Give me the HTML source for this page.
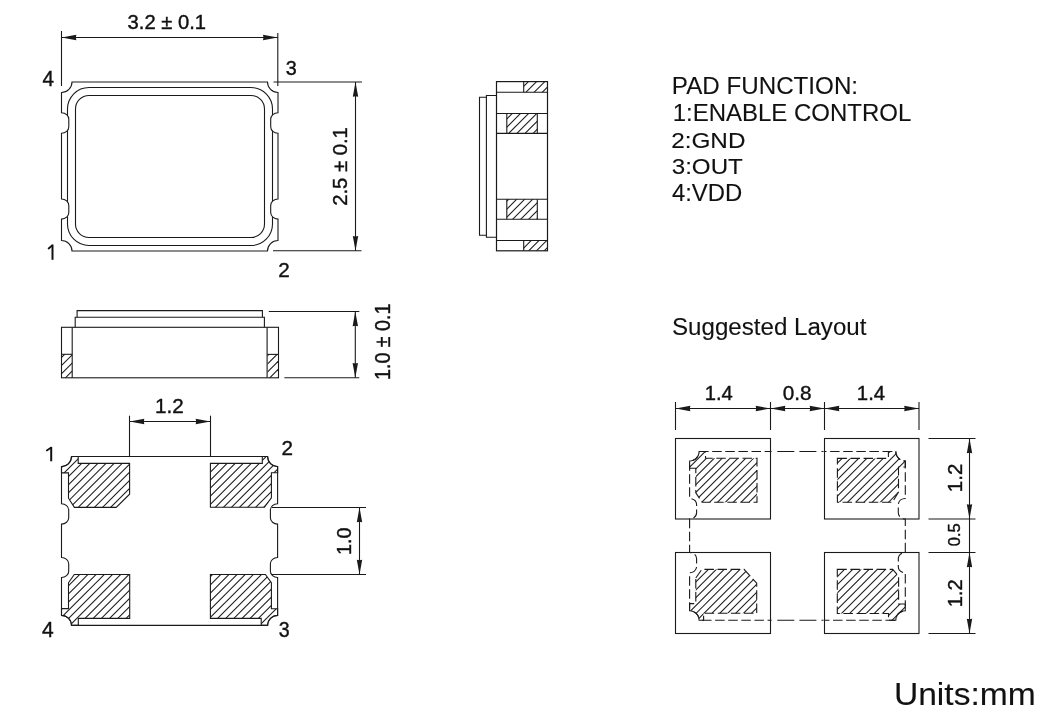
<!DOCTYPE html>
<html><head><meta charset="utf-8"><style>
html,body{margin:0;padding:0;background:#fff;}
svg{display:block;will-change:transform;}
text{font-family:"Liberation Sans",sans-serif;fill:#111;stroke:#111;stroke-width:0.4px;}
</style></head><body>
<svg width="1062" height="715" viewBox="0 0 1062 715">
<rect width="1062" height="715" fill="#fff"/>
<g stroke="#1a1a1a" fill="none" stroke-linecap="butt">
<rect x="67.5" y="87.5" width="205.0" height="158.0" rx="21.5" ry="21.5" fill="none" stroke-width="1.1"/>
<rect x="75.5" y="95.5" width="189.0" height="142.0" rx="13.5" ry="13.5" fill="none" stroke-width="1.1"/>
<path d="M 61.5,112.7 A 7.3 6.6 0 0 1 68.8,119.3 L 68.8,126.70000000000002 A 7.3 6.6 0 0 1 61.5,133.3 Z" fill="#fff" stroke="none"/>
<path d="M 278.0,112.7 A 7.3 6.6 0 0 0 270.7,119.3 L 270.7,126.70000000000002 A 7.3 6.6 0 0 0 278.0,133.3 Z" fill="#fff" stroke="none"/>
<path d="M 61.5,199.0 A 7.3 6.6 0 0 1 68.8,205.6 L 68.8,212.5 A 7.3 6.6 0 0 1 61.5,219.1 Z" fill="#fff" stroke="none"/>
<path d="M 278.0,199.0 A 7.3 6.6 0 0 0 270.7,205.6 L 270.7,212.5 A 7.3 6.6 0 0 0 278.0,219.1 Z" fill="#fff" stroke="none"/>
<path d="M 72.0,82.0 L 267.5,82.0 A 10.5 10.5 0 0 0 278.0,92.5 L 278.0,112.7 A 7.3 6.6 0 0 0 270.7,119.3 L 270.7,126.70000000000002 A 7.3 6.6 0 0 0 278.0,133.3 L 278.0,199.0 A 7.3 6.6 0 0 0 270.7,205.6 L 270.7,212.5 A 7.3 6.6 0 0 0 278.0,219.1 L 278.0,240.5 A 10.5 10.5 0 0 0 267.5,251.0 L 72.0,251.0 A 10.5 10.5 0 0 0 61.5,240.5 L 61.5,219.1 A 7.3 6.6 0 0 0 68.8,212.5 L 68.8,205.6 A 7.3 6.6 0 0 0 61.5,199.0 L 61.5,133.3 A 7.3 6.6 0 0 0 68.8,126.70000000000002 L 68.8,119.3 A 7.3 6.6 0 0 0 61.5,112.7 L 61.5,92.5 A 10.5 10.5 0 0 0 72.0,82.0 Z" fill="none" stroke-width="1.1" />
<line x1="61.5" y1="31" x2="61.5" y2="86" stroke-width="1.1" />
<line x1="277.8" y1="33" x2="277.8" y2="86" stroke-width="1.1" />
<line x1="61.5" y1="37.5" x2="277.8" y2="37.5" stroke-width="1.1" />
<polygon points="61.50,37.50 76.30,34.80 75.86,37.50 76.30,40.20" fill="#1a1a1a" stroke="none"/>
<polygon points="277.80,37.50 263.00,34.80 263.44,37.50 263.00,40.20" fill="#1a1a1a" stroke="none"/>
<line x1="273.5" y1="82" x2="362" y2="82" stroke-width="1.1" />
<line x1="273" y1="250.8" x2="361.5" y2="250.8" stroke-width="1.1" />
<line x1="355.5" y1="82" x2="355.5" y2="250.8" stroke-width="1.1" />
<polygon points="355.50,82.00 352.80,96.80 355.50,96.36 358.20,96.80" fill="#1a1a1a" stroke="none"/>
<polygon points="355.50,250.80 352.80,236.00 355.50,236.44 358.20,236.00" fill="#1a1a1a" stroke="none"/>
<rect x="496.5" y="81.6" width="51" height="169.2" fill="none" stroke-width="1.2"/>
<line x1="496.5" y1="92.2" x2="547.5" y2="92.2" stroke-width="1.1" />
<line x1="523.7" y1="81.6" x2="523.7" y2="92.2" stroke-width="1.1" />
<clipPath id="c1"><path d="M 523.7,81.6 L 547.5,81.6 L 547.5,92.2 L 523.7,92.2 Z"/></clipPath>
<g clip-path="url(#c1)">
<line x1="506.80" y1="95" x2="522.80" y2="79" stroke-width="1.05" />
<line x1="515.00" y1="95" x2="531.00" y2="79" stroke-width="1.05" />
<line x1="523.20" y1="95" x2="539.20" y2="79" stroke-width="1.05" />
<line x1="531.40" y1="95" x2="547.40" y2="79" stroke-width="1.05" />
<line x1="539.60" y1="95" x2="555.60" y2="79" stroke-width="1.05" />
<line x1="547.80" y1="95" x2="563.80" y2="79" stroke-width="1.05" />
</g>
<line x1="496.5" y1="113.5" x2="547.5" y2="113.5" stroke-width="1.1" />
<line x1="496.5" y1="133.4" x2="547.5" y2="133.4" stroke-width="1.1" />
<line x1="506.8" y1="113.5" x2="506.8" y2="133.4" stroke-width="1.1" />
<line x1="537.3" y1="113.5" x2="537.3" y2="133.4" stroke-width="1.1" />
<clipPath id="c2"><path d="M 506.8,113.5 L 537.3,113.5 L 537.3,133.4 L 506.8,133.4 Z"/></clipPath>
<g clip-path="url(#c2)">
<line x1="482.25" y1="135.4" x2="506.15" y2="111.5" stroke-width="1.05" />
<line x1="490.40" y1="135.4" x2="514.30" y2="111.5" stroke-width="1.05" />
<line x1="498.55" y1="135.4" x2="522.45" y2="111.5" stroke-width="1.05" />
<line x1="506.70" y1="135.4" x2="530.60" y2="111.5" stroke-width="1.05" />
<line x1="514.85" y1="135.4" x2="538.75" y2="111.5" stroke-width="1.05" />
<line x1="523.00" y1="135.4" x2="546.90" y2="111.5" stroke-width="1.05" />
<line x1="531.15" y1="135.4" x2="555.05" y2="111.5" stroke-width="1.05" />
<line x1="539.30" y1="135.4" x2="563.20" y2="111.5" stroke-width="1.05" />
</g>
<line x1="496.5" y1="199.2" x2="547.5" y2="199.2" stroke-width="1.1" />
<line x1="496.5" y1="219.3" x2="547.5" y2="219.3" stroke-width="1.1" />
<line x1="506.8" y1="199.2" x2="506.8" y2="219.3" stroke-width="1.1" />
<line x1="537.3" y1="199.2" x2="537.3" y2="219.3" stroke-width="1.1" />
<clipPath id="c3"><path d="M 506.8,199.2 L 537.3,199.2 L 537.3,219.3 L 506.8,219.3 Z"/></clipPath>
<g clip-path="url(#c3)">
<line x1="478.60" y1="221.3" x2="502.70" y2="197.2" stroke-width="1.05" />
<line x1="486.60" y1="221.3" x2="510.70" y2="197.2" stroke-width="1.05" />
<line x1="494.60" y1="221.3" x2="518.70" y2="197.2" stroke-width="1.05" />
<line x1="502.60" y1="221.3" x2="526.70" y2="197.2" stroke-width="1.05" />
<line x1="510.60" y1="221.3" x2="534.70" y2="197.2" stroke-width="1.05" />
<line x1="518.60" y1="221.3" x2="542.70" y2="197.2" stroke-width="1.05" />
<line x1="526.60" y1="221.3" x2="550.70" y2="197.2" stroke-width="1.05" />
<line x1="534.60" y1="221.3" x2="558.70" y2="197.2" stroke-width="1.05" />
<line x1="542.60" y1="221.3" x2="566.70" y2="197.2" stroke-width="1.05" />
</g>
<line x1="496.5" y1="240.5" x2="547.5" y2="240.5" stroke-width="1.1" />
<line x1="523.7" y1="240.5" x2="523.7" y2="250.8" stroke-width="1.1" />
<clipPath id="c4"><path d="M 523.7,240.5 L 547.5,240.5 L 547.5,250.8 L 523.7,250.8 Z"/></clipPath>
<g clip-path="url(#c4)">
<line x1="503.10" y1="253" x2="518.10" y2="238" stroke-width="1.05" />
<line x1="510.90" y1="253" x2="525.90" y2="238" stroke-width="1.05" />
<line x1="518.70" y1="253" x2="533.70" y2="238" stroke-width="1.05" />
<line x1="526.50" y1="253" x2="541.50" y2="238" stroke-width="1.05" />
<line x1="534.30" y1="253" x2="549.30" y2="238" stroke-width="1.05" />
<line x1="542.10" y1="253" x2="557.10" y2="238" stroke-width="1.05" />
<line x1="549.90" y1="253" x2="564.90" y2="238" stroke-width="1.05" />
</g>
<path d="M 496.5,95.5 L 486.4,95.5 L 486.4,237.3 L 496.5,237.3" fill="none" stroke-width="1.1" />
<path d="M 486.4,97.3 L 479.5,97.3 L 479.5,235.2 L 486.4,235.2" fill="none" stroke-width="1.1" />
<rect x="61.5" y="327.3" width="217.0" height="50.5" fill="none" stroke-width="1.1"/>
<line x1="72.2" y1="327.3" x2="72.2" y2="377.8" stroke-width="1.1" />
<line x1="61.5" y1="354.3" x2="72.2" y2="354.3" stroke-width="1.1" />
<clipPath id="c5"><path d="M 61.5,354.3 L 72.2,354.3 L 72.2,377.8 L 61.5,377.8 Z"/></clipPath>
<g clip-path="url(#c5)">
<line x1="30.90" y1="380" x2="58.90" y2="352" stroke-width="1.05" />
<line x1="39.00" y1="380" x2="67.00" y2="352" stroke-width="1.05" />
<line x1="47.10" y1="380" x2="75.10" y2="352" stroke-width="1.05" />
<line x1="55.20" y1="380" x2="83.20" y2="352" stroke-width="1.05" />
<line x1="63.30" y1="380" x2="91.30" y2="352" stroke-width="1.05" />
<line x1="71.40" y1="380" x2="99.40" y2="352" stroke-width="1.05" />
</g>
<line x1="267.1" y1="327.3" x2="267.1" y2="377.8" stroke-width="1.1" />
<line x1="267.1" y1="354.4" x2="278.5" y2="354.4" stroke-width="1.1" />
<clipPath id="c6"><path d="M 267.6,354.4 L 278,354.4 L 278,377.8 L 267.6,377.8 Z"/></clipPath>
<g clip-path="url(#c6)">
<line x1="235.20" y1="380" x2="263.20" y2="352" stroke-width="1.05" />
<line x1="243.30" y1="380" x2="271.30" y2="352" stroke-width="1.05" />
<line x1="251.40" y1="380" x2="279.40" y2="352" stroke-width="1.05" />
<line x1="259.50" y1="380" x2="287.50" y2="352" stroke-width="1.05" />
<line x1="267.60" y1="380" x2="295.60" y2="352" stroke-width="1.05" />
<line x1="275.70" y1="380" x2="303.70" y2="352" stroke-width="1.05" />
<line x1="283.80" y1="380" x2="311.80" y2="352" stroke-width="1.05" />
</g>
<path d="M 75.2,327.3 L 75.2,317.3 L 264.4,317.3 L 264.4,327.3" fill="none" stroke-width="1.1" />
<path d="M 77.1,317.3 L 77.1,310.6 L 262.4,310.6 L 262.4,317.3" fill="none" stroke-width="1.1" />
<line x1="268.8" y1="311.5" x2="359.3" y2="311.5" stroke-width="1.1" />
<line x1="284.4" y1="377.8" x2="359.3" y2="377.8" stroke-width="1.1" />
<line x1="355.3" y1="311.5" x2="355.3" y2="377.8" stroke-width="1.1" />
<polygon points="355.30,311.50 352.60,326.30 355.30,325.86 358.00,326.30" fill="#1a1a1a" stroke="none"/>
<polygon points="355.30,377.80 352.60,363.00 355.30,363.44 358.00,363.00" fill="#1a1a1a" stroke="none"/>
<clipPath id="c7"><path d="M 68.50,472.90 L 61.50,472.90 L 61.50,466.50 L 63.45,466.31 L 65.33,465.74 L 67.06,464.81 L 68.57,463.57 L 69.81,462.06 L 70.74,460.33 L 71.31,458.45 L 71.50,456.50 L 78.20,456.50 L 78.20,463.40 L 129.60,463.40 L 129.60,494.20 L 116.20,507.40 L 74.40,507.40 L 68.50,498.20 Z"/></clipPath>
<g clip-path="url(#c7)">
<line x1="2.30" y1="510.4" x2="59.20" y2="453.5" stroke-width="1.05" />
<line x1="10.40" y1="510.4" x2="67.30" y2="453.5" stroke-width="1.05" />
<line x1="18.50" y1="510.4" x2="75.40" y2="453.5" stroke-width="1.05" />
<line x1="26.60" y1="510.4" x2="83.50" y2="453.5" stroke-width="1.05" />
<line x1="34.70" y1="510.4" x2="91.60" y2="453.5" stroke-width="1.05" />
<line x1="42.80" y1="510.4" x2="99.70" y2="453.5" stroke-width="1.05" />
<line x1="50.90" y1="510.4" x2="107.80" y2="453.5" stroke-width="1.05" />
<line x1="59.00" y1="510.4" x2="115.90" y2="453.5" stroke-width="1.05" />
<line x1="67.10" y1="510.4" x2="124.00" y2="453.5" stroke-width="1.05" />
<line x1="75.20" y1="510.4" x2="132.10" y2="453.5" stroke-width="1.05" />
<line x1="83.30" y1="510.4" x2="140.20" y2="453.5" stroke-width="1.05" />
<line x1="91.40" y1="510.4" x2="148.30" y2="453.5" stroke-width="1.05" />
<line x1="99.50" y1="510.4" x2="156.40" y2="453.5" stroke-width="1.05" />
<line x1="107.60" y1="510.4" x2="164.50" y2="453.5" stroke-width="1.05" />
<line x1="115.70" y1="510.4" x2="172.60" y2="453.5" stroke-width="1.05" />
<line x1="123.80" y1="510.4" x2="180.70" y2="453.5" stroke-width="1.05" />
<line x1="131.90" y1="510.4" x2="188.80" y2="453.5" stroke-width="1.05" />
</g>
<path d="M 68.50,472.90 L 61.50,472.90 L 61.50,466.50 L 63.45,466.31 L 65.33,465.74 L 67.06,464.81 L 68.57,463.57 L 69.81,462.06 L 70.74,460.33 L 71.31,458.45 L 71.50,456.50 L 78.20,456.50 L 78.20,463.40 L 129.60,463.40 L 129.60,494.20 L 116.20,507.40 L 74.40,507.40 L 68.50,498.20 Z" fill="none" stroke-width="1.1" />
<clipPath id="c8"><path d="M 210.40,463.40 L 262.30,463.40 L 262.30,456.50 L 267.60,456.50 L 267.79,458.45 L 268.36,460.33 L 269.29,462.06 L 270.53,463.57 L 272.04,464.81 L 273.77,465.74 L 275.65,466.31 L 277.60,466.50 L 277.60,472.80 L 271.40,472.80 L 271.40,497.90 L 264.40,507.20 L 210.40,507.20 Z"/></clipPath>
<g clip-path="url(#c8)">
<line x1="148.10" y1="510.2" x2="204.80" y2="453.5" stroke-width="1.05" />
<line x1="156.15" y1="510.2" x2="212.85" y2="453.5" stroke-width="1.05" />
<line x1="164.20" y1="510.2" x2="220.90" y2="453.5" stroke-width="1.05" />
<line x1="172.25" y1="510.2" x2="228.95" y2="453.5" stroke-width="1.05" />
<line x1="180.30" y1="510.2" x2="237.00" y2="453.5" stroke-width="1.05" />
<line x1="188.35" y1="510.2" x2="245.05" y2="453.5" stroke-width="1.05" />
<line x1="196.40" y1="510.2" x2="253.10" y2="453.5" stroke-width="1.05" />
<line x1="204.45" y1="510.2" x2="261.15" y2="453.5" stroke-width="1.05" />
<line x1="212.50" y1="510.2" x2="269.20" y2="453.5" stroke-width="1.05" />
<line x1="220.55" y1="510.2" x2="277.25" y2="453.5" stroke-width="1.05" />
<line x1="228.60" y1="510.2" x2="285.30" y2="453.5" stroke-width="1.05" />
<line x1="236.65" y1="510.2" x2="293.35" y2="453.5" stroke-width="1.05" />
<line x1="244.70" y1="510.2" x2="301.40" y2="453.5" stroke-width="1.05" />
<line x1="252.75" y1="510.2" x2="309.45" y2="453.5" stroke-width="1.05" />
<line x1="260.80" y1="510.2" x2="317.50" y2="453.5" stroke-width="1.05" />
<line x1="268.85" y1="510.2" x2="325.55" y2="453.5" stroke-width="1.05" />
<line x1="276.90" y1="510.2" x2="333.60" y2="453.5" stroke-width="1.05" />
</g>
<path d="M 210.40,463.40 L 262.30,463.40 L 262.30,456.50 L 267.60,456.50 L 267.79,458.45 L 268.36,460.33 L 269.29,462.06 L 270.53,463.57 L 272.04,464.81 L 273.77,465.74 L 275.65,466.31 L 277.60,466.50 L 277.60,472.80 L 271.40,472.80 L 271.40,497.90 L 264.40,507.20 L 210.40,507.20 Z" fill="none" stroke-width="1.1" />
<clipPath id="c9"><path d="M 68.50,582.70 L 74.30,574.50 L 129.70,574.50 L 129.70,618.40 L 78.30,618.40 L 78.30,625.40 L 71.50,625.40 L 71.31,623.45 L 70.74,621.57 L 69.81,619.84 L 68.57,618.33 L 67.06,617.09 L 65.33,616.16 L 63.45,615.59 L 61.50,615.40 L 61.50,608.60 L 68.50,608.60 Z"/></clipPath>
<g clip-path="url(#c9)">
<line x1="1.20" y1="628.4" x2="58.10" y2="571.5" stroke-width="1.05" />
<line x1="9.40" y1="628.4" x2="66.30" y2="571.5" stroke-width="1.05" />
<line x1="17.60" y1="628.4" x2="74.50" y2="571.5" stroke-width="1.05" />
<line x1="25.80" y1="628.4" x2="82.70" y2="571.5" stroke-width="1.05" />
<line x1="34.00" y1="628.4" x2="90.90" y2="571.5" stroke-width="1.05" />
<line x1="42.20" y1="628.4" x2="99.10" y2="571.5" stroke-width="1.05" />
<line x1="50.40" y1="628.4" x2="107.30" y2="571.5" stroke-width="1.05" />
<line x1="58.60" y1="628.4" x2="115.50" y2="571.5" stroke-width="1.05" />
<line x1="66.80" y1="628.4" x2="123.70" y2="571.5" stroke-width="1.05" />
<line x1="75.00" y1="628.4" x2="131.90" y2="571.5" stroke-width="1.05" />
<line x1="83.20" y1="628.4" x2="140.10" y2="571.5" stroke-width="1.05" />
<line x1="91.40" y1="628.4" x2="148.30" y2="571.5" stroke-width="1.05" />
<line x1="99.60" y1="628.4" x2="156.50" y2="571.5" stroke-width="1.05" />
<line x1="107.80" y1="628.4" x2="164.70" y2="571.5" stroke-width="1.05" />
<line x1="116.00" y1="628.4" x2="172.90" y2="571.5" stroke-width="1.05" />
<line x1="124.20" y1="628.4" x2="181.10" y2="571.5" stroke-width="1.05" />
<line x1="132.40" y1="628.4" x2="189.30" y2="571.5" stroke-width="1.05" />
</g>
<path d="M 68.50,582.70 L 74.30,574.50 L 129.70,574.50 L 129.70,618.40 L 78.30,618.40 L 78.30,625.40 L 71.50,625.40 L 71.31,623.45 L 70.74,621.57 L 69.81,619.84 L 68.57,618.33 L 67.06,617.09 L 65.33,616.16 L 63.45,615.59 L 61.50,615.40 L 61.50,608.60 L 68.50,608.60 Z" fill="none" stroke-width="1.1" />
<clipPath id="c10"><path d="M 210.40,574.50 L 265.40,574.50 L 271.40,582.70 L 271.40,608.80 L 277.60,608.80 L 277.60,615.40 L 275.65,615.59 L 273.77,616.16 L 272.04,617.09 L 270.53,618.33 L 269.29,619.84 L 268.36,621.57 L 267.79,623.45 L 267.60,625.40 L 261.20,625.40 L 261.20,618.40 L 210.40,618.40 Z"/></clipPath>
<g clip-path="url(#c10)">
<line x1="150.55" y1="628.4" x2="207.45" y2="571.5" stroke-width="1.05" />
<line x1="158.70" y1="628.4" x2="215.60" y2="571.5" stroke-width="1.05" />
<line x1="166.85" y1="628.4" x2="223.75" y2="571.5" stroke-width="1.05" />
<line x1="175.00" y1="628.4" x2="231.90" y2="571.5" stroke-width="1.05" />
<line x1="183.15" y1="628.4" x2="240.05" y2="571.5" stroke-width="1.05" />
<line x1="191.30" y1="628.4" x2="248.20" y2="571.5" stroke-width="1.05" />
<line x1="199.45" y1="628.4" x2="256.35" y2="571.5" stroke-width="1.05" />
<line x1="207.60" y1="628.4" x2="264.50" y2="571.5" stroke-width="1.05" />
<line x1="215.75" y1="628.4" x2="272.65" y2="571.5" stroke-width="1.05" />
<line x1="223.90" y1="628.4" x2="280.80" y2="571.5" stroke-width="1.05" />
<line x1="232.05" y1="628.4" x2="288.95" y2="571.5" stroke-width="1.05" />
<line x1="240.20" y1="628.4" x2="297.10" y2="571.5" stroke-width="1.05" />
<line x1="248.35" y1="628.4" x2="305.25" y2="571.5" stroke-width="1.05" />
<line x1="256.50" y1="628.4" x2="313.40" y2="571.5" stroke-width="1.05" />
<line x1="264.65" y1="628.4" x2="321.55" y2="571.5" stroke-width="1.05" />
<line x1="272.80" y1="628.4" x2="329.70" y2="571.5" stroke-width="1.05" />
<line x1="280.95" y1="628.4" x2="337.85" y2="571.5" stroke-width="1.05" />
</g>
<path d="M 210.40,574.50 L 265.40,574.50 L 271.40,582.70 L 271.40,608.80 L 277.60,608.80 L 277.60,615.40 L 275.65,615.59 L 273.77,616.16 L 272.04,617.09 L 270.53,618.33 L 269.29,619.84 L 268.36,621.57 L 267.79,623.45 L 267.60,625.40 L 261.20,625.40 L 261.20,618.40 L 210.40,618.40 Z" fill="none" stroke-width="1.1" />
<path d="M 71.5,456.5 L 267.6,456.5 A 10.0 10.0 0 0 0 277.6,466.5 L 277.6,503.7 A 7.2 6.3 0 0 0 270.40000000000003,510.0 L 270.40000000000003,517.8000000000001 A 7.2 6.3 0 0 0 277.6,524.1 L 277.6,557.5 A 7.2 6.3 0 0 0 270.40000000000003,563.8 L 270.40000000000003,571.2 A 7.2 6.3 0 0 0 277.6,577.5 L 277.6,615.4 A 10.0 10.0 0 0 0 267.6,625.4 L 71.5,625.4 A 10.0 10.0 0 0 0 61.5,615.4 L 61.5,577.5 A 7.2 6.3 0 0 0 68.7,571.2 L 68.7,563.8 A 7.2 6.3 0 0 0 61.5,557.5 L 61.5,524.1 A 7.2 6.3 0 0 0 68.7,517.8000000000001 L 68.7,510.0 A 7.2 6.3 0 0 0 61.5,503.7 L 61.5,466.5 A 10.0 10.0 0 0 0 71.5,456.5 Z" fill="none" stroke-width="1.1" />
<line x1="129.5" y1="415.7" x2="129.5" y2="456.5" stroke-width="1.1" />
<line x1="210.5" y1="415.7" x2="210.5" y2="456.5" stroke-width="1.1" />
<line x1="129.5" y1="421.5" x2="210.5" y2="421.5" stroke-width="1.1" />
<polygon points="129.50,421.50 144.30,418.80 143.86,421.50 144.30,424.20" fill="#1a1a1a" stroke="none"/>
<polygon points="210.50,421.50 195.70,418.80 196.14,421.50 195.70,424.20" fill="#1a1a1a" stroke="none"/>
<line x1="272" y1="507.5" x2="366" y2="507.5" stroke-width="1.1" />
<line x1="272" y1="574.5" x2="366" y2="574.5" stroke-width="1.1" />
<line x1="359.5" y1="507.5" x2="359.5" y2="574.5" stroke-width="1.1" />
<polygon points="359.50,507.50 356.80,522.30 359.50,521.86 362.20,522.30" fill="#1a1a1a" stroke="none"/>
<polygon points="359.50,574.50 356.80,559.70 359.50,560.14 362.20,559.70" fill="#1a1a1a" stroke="none"/>
<clipPath id="c11"><path d="M 695.80,468.30 L 689.60,468.30 L 689.60,461.00 L 691.45,460.82 L 693.24,460.28 L 694.88,459.40 L 696.32,458.22 L 697.50,456.78 L 698.38,455.14 L 698.92,453.35 L 699.10,451.50 L 705.50,451.50 L 705.50,458.30 L 757.00,458.30 L 757.00,502.20 L 702.10,502.20 L 695.80,492.80 Z"/></clipPath>
<g clip-path="url(#c11)">
<line x1="627.97" y1="505.2" x2="684.67" y2="448.5" stroke-width="1.05" />
<line x1="635.84" y1="505.2" x2="692.54" y2="448.5" stroke-width="1.05" />
<line x1="643.71" y1="505.2" x2="700.41" y2="448.5" stroke-width="1.05" />
<line x1="651.58" y1="505.2" x2="708.28" y2="448.5" stroke-width="1.05" />
<line x1="659.45" y1="505.2" x2="716.15" y2="448.5" stroke-width="1.05" />
<line x1="667.32" y1="505.2" x2="724.02" y2="448.5" stroke-width="1.05" />
<line x1="675.19" y1="505.2" x2="731.89" y2="448.5" stroke-width="1.05" />
<line x1="683.06" y1="505.2" x2="739.76" y2="448.5" stroke-width="1.05" />
<line x1="690.93" y1="505.2" x2="747.63" y2="448.5" stroke-width="1.05" />
<line x1="698.80" y1="505.2" x2="755.50" y2="448.5" stroke-width="1.05" />
<line x1="706.67" y1="505.2" x2="763.37" y2="448.5" stroke-width="1.05" />
<line x1="714.54" y1="505.2" x2="771.24" y2="448.5" stroke-width="1.05" />
<line x1="722.41" y1="505.2" x2="779.11" y2="448.5" stroke-width="1.05" />
<line x1="730.28" y1="505.2" x2="786.98" y2="448.5" stroke-width="1.05" />
<line x1="738.15" y1="505.2" x2="794.85" y2="448.5" stroke-width="1.05" />
<line x1="746.02" y1="505.2" x2="802.72" y2="448.5" stroke-width="1.05" />
<line x1="753.89" y1="505.2" x2="810.59" y2="448.5" stroke-width="1.05" />
<line x1="761.76" y1="505.2" x2="818.46" y2="448.5" stroke-width="1.05" />
</g>
<path d="M 695.80,468.30 L 689.60,468.30 L 689.60,461.00 L 691.45,460.82 L 693.24,460.28 L 694.88,459.40 L 696.32,458.22 L 697.50,456.78 L 698.38,455.14 L 698.92,453.35 L 699.10,451.50 L 705.50,451.50 L 705.50,458.30 L 757.00,458.30 L 757.00,502.20 L 702.10,502.20 L 695.80,492.80 Z" fill="none" stroke-width="1.1" stroke-dasharray="9.5 3.6"/>
<clipPath id="c12"><path d="M 837.40,458.40 L 888.40,458.40 L 888.40,451.50 L 895.80,451.50 L 895.98,453.35 L 896.52,455.14 L 897.40,456.78 L 898.58,458.22 L 900.02,459.40 L 901.66,460.28 L 903.45,460.82 L 905.30,461.00 L 905.30,467.00 L 898.50,467.00 L 898.50,492.10 L 892.40,502.30 L 837.40,502.30 Z"/></clipPath>
<g clip-path="url(#c12)">
<line x1="778.90" y1="505.3" x2="835.70" y2="448.5" stroke-width="1.05" />
<line x1="787.10" y1="505.3" x2="843.90" y2="448.5" stroke-width="1.05" />
<line x1="795.30" y1="505.3" x2="852.10" y2="448.5" stroke-width="1.05" />
<line x1="803.50" y1="505.3" x2="860.30" y2="448.5" stroke-width="1.05" />
<line x1="811.70" y1="505.3" x2="868.50" y2="448.5" stroke-width="1.05" />
<line x1="819.90" y1="505.3" x2="876.70" y2="448.5" stroke-width="1.05" />
<line x1="828.10" y1="505.3" x2="884.90" y2="448.5" stroke-width="1.05" />
<line x1="836.30" y1="505.3" x2="893.10" y2="448.5" stroke-width="1.05" />
<line x1="844.50" y1="505.3" x2="901.30" y2="448.5" stroke-width="1.05" />
<line x1="852.70" y1="505.3" x2="909.50" y2="448.5" stroke-width="1.05" />
<line x1="860.90" y1="505.3" x2="917.70" y2="448.5" stroke-width="1.05" />
<line x1="869.10" y1="505.3" x2="925.90" y2="448.5" stroke-width="1.05" />
<line x1="877.30" y1="505.3" x2="934.10" y2="448.5" stroke-width="1.05" />
<line x1="885.50" y1="505.3" x2="942.30" y2="448.5" stroke-width="1.05" />
<line x1="893.70" y1="505.3" x2="950.50" y2="448.5" stroke-width="1.05" />
<line x1="901.90" y1="505.3" x2="958.70" y2="448.5" stroke-width="1.05" />
<line x1="910.10" y1="505.3" x2="966.90" y2="448.5" stroke-width="1.05" />
</g>
<path d="M 837.40,458.40 L 888.40,458.40 L 888.40,451.50 L 895.80,451.50 L 895.98,453.35 L 896.52,455.14 L 897.40,456.78 L 898.58,458.22 L 900.02,459.40 L 901.66,460.28 L 903.45,460.82 L 905.30,461.00 L 905.30,467.00 L 898.50,467.00 L 898.50,492.10 L 892.40,502.30 L 837.40,502.30 Z" fill="none" stroke-width="1.1" stroke-dasharray="9.5 3.6"/>
<clipPath id="c13"><path d="M 695.80,578.00 L 701.80,569.40 L 744.10,569.40 L 756.70,583.20 L 756.70,613.30 L 703.60,613.30 L 703.60,620.30 L 699.10,620.30 L 698.92,618.45 L 698.38,616.66 L 697.50,615.02 L 696.32,613.58 L 694.88,612.40 L 693.24,611.52 L 691.45,610.98 L 689.60,610.80 L 689.60,603.60 L 695.80,603.60 Z"/></clipPath>
<g clip-path="url(#c13)">
<line x1="630.80" y1="623.3" x2="687.70" y2="566.4" stroke-width="1.05" />
<line x1="638.70" y1="623.3" x2="695.60" y2="566.4" stroke-width="1.05" />
<line x1="646.60" y1="623.3" x2="703.50" y2="566.4" stroke-width="1.05" />
<line x1="654.50" y1="623.3" x2="711.40" y2="566.4" stroke-width="1.05" />
<line x1="662.40" y1="623.3" x2="719.30" y2="566.4" stroke-width="1.05" />
<line x1="670.30" y1="623.3" x2="727.20" y2="566.4" stroke-width="1.05" />
<line x1="678.20" y1="623.3" x2="735.10" y2="566.4" stroke-width="1.05" />
<line x1="686.10" y1="623.3" x2="743.00" y2="566.4" stroke-width="1.05" />
<line x1="694.00" y1="623.3" x2="750.90" y2="566.4" stroke-width="1.05" />
<line x1="701.90" y1="623.3" x2="758.80" y2="566.4" stroke-width="1.05" />
<line x1="709.80" y1="623.3" x2="766.70" y2="566.4" stroke-width="1.05" />
<line x1="717.70" y1="623.3" x2="774.60" y2="566.4" stroke-width="1.05" />
<line x1="725.60" y1="623.3" x2="782.50" y2="566.4" stroke-width="1.05" />
<line x1="733.50" y1="623.3" x2="790.40" y2="566.4" stroke-width="1.05" />
<line x1="741.40" y1="623.3" x2="798.30" y2="566.4" stroke-width="1.05" />
<line x1="749.30" y1="623.3" x2="806.20" y2="566.4" stroke-width="1.05" />
<line x1="757.20" y1="623.3" x2="814.10" y2="566.4" stroke-width="1.05" />
</g>
<path d="M 695.80,578.00 L 701.80,569.40 L 744.10,569.40 L 756.70,583.20 L 756.70,613.30 L 703.60,613.30 L 703.60,620.30 L 699.10,620.30 L 698.92,618.45 L 698.38,616.66 L 697.50,615.02 L 696.32,613.58 L 694.88,612.40 L 693.24,611.52 L 691.45,610.98 L 689.60,610.80 L 689.60,603.60 L 695.80,603.60 Z" fill="none" stroke-width="1.1" stroke-dasharray="9.5 3.6"/>
<clipPath id="c14"><path d="M 837.30,569.40 L 892.70,569.40 L 898.60,576.10 L 898.60,604.00 L 905.30,604.00 L 905.30,610.80 L 903.45,610.98 L 901.66,611.52 L 900.02,612.40 L 898.58,613.58 L 897.40,615.02 L 896.52,616.66 L 895.98,618.45 L 895.80,620.30 L 888.50,620.30 L 888.50,613.50 L 837.30,613.50 Z"/></clipPath>
<g clip-path="url(#c14)">
<line x1="774.20" y1="623.3" x2="831.10" y2="566.4" stroke-width="1.05" />
<line x1="782.40" y1="623.3" x2="839.30" y2="566.4" stroke-width="1.05" />
<line x1="790.60" y1="623.3" x2="847.50" y2="566.4" stroke-width="1.05" />
<line x1="798.80" y1="623.3" x2="855.70" y2="566.4" stroke-width="1.05" />
<line x1="807.00" y1="623.3" x2="863.90" y2="566.4" stroke-width="1.05" />
<line x1="815.20" y1="623.3" x2="872.10" y2="566.4" stroke-width="1.05" />
<line x1="823.40" y1="623.3" x2="880.30" y2="566.4" stroke-width="1.05" />
<line x1="831.60" y1="623.3" x2="888.50" y2="566.4" stroke-width="1.05" />
<line x1="839.80" y1="623.3" x2="896.70" y2="566.4" stroke-width="1.05" />
<line x1="848.00" y1="623.3" x2="904.90" y2="566.4" stroke-width="1.05" />
<line x1="856.20" y1="623.3" x2="913.10" y2="566.4" stroke-width="1.05" />
<line x1="864.40" y1="623.3" x2="921.30" y2="566.4" stroke-width="1.05" />
<line x1="872.60" y1="623.3" x2="929.50" y2="566.4" stroke-width="1.05" />
<line x1="880.80" y1="623.3" x2="937.70" y2="566.4" stroke-width="1.05" />
<line x1="889.00" y1="623.3" x2="945.90" y2="566.4" stroke-width="1.05" />
<line x1="897.20" y1="623.3" x2="954.10" y2="566.4" stroke-width="1.05" />
<line x1="905.40" y1="623.3" x2="962.30" y2="566.4" stroke-width="1.05" />
</g>
<path d="M 837.30,569.40 L 892.70,569.40 L 898.60,576.10 L 898.60,604.00 L 905.30,604.00 L 905.30,610.80 L 903.45,610.98 L 901.66,611.52 L 900.02,612.40 L 898.58,613.58 L 897.40,615.02 L 896.52,616.66 L 895.98,618.45 L 895.80,620.30 L 888.50,620.30 L 888.50,613.50 L 837.30,613.50 Z" fill="none" stroke-width="1.1" stroke-dasharray="9.5 3.6"/>
<path d="M 699.1,451.5 L 895.8,451.5 A 9.5 9.5 0 0 0 905.3,461.0 L 905.3,498.5 A 7.0 6.3 0 0 0 898.3,504.8 L 898.3,512.8000000000001 A 7.0 6.3 0 0 0 905.3,519.1 L 905.3,552.5 A 7.0 6.3 0 0 0 898.3,558.8 L 898.3,566.5 A 7.0 6.3 0 0 0 905.3,572.8 L 905.3,610.8 A 9.5 9.5 0 0 0 895.8,620.3 L 699.1,620.3 A 9.5 9.5 0 0 0 689.6,610.8 L 689.6,572.8 A 7.0 6.3 0 0 0 696.6,566.5 L 696.6,558.8 A 7.0 6.3 0 0 0 689.6,552.5 L 689.6,519.1 A 7.0 6.3 0 0 0 696.6,512.8000000000001 L 696.6,504.8 A 7.0 6.3 0 0 0 689.6,498.5 L 689.6,461.0 A 9.5 9.5 0 0 0 699.1,451.5 Z" fill="none" stroke-width="1.1" stroke-dasharray="9.5 3.6"/>
<rect x="771.6" y="449.5" width="52.3" height="4" fill="#fff" stroke="none"/>
<line x1="777.3" y1="451.5" x2="823.5" y2="451.5" stroke-width="1.1" stroke-dasharray="17 5.1"/>
<rect x="771.6" y="618.3" width="52.3" height="4" fill="#fff" stroke="none"/>
<line x1="777.3" y1="620.3" x2="823.5" y2="620.3" stroke-width="1.1" stroke-dasharray="17 5.1"/>
<rect x="675.5" y="438.5" width="95" height="80.5" fill="none" stroke-width="1.1"/>
<rect x="675.5" y="552.5" width="95" height="81" fill="none" stroke-width="1.1"/>
<rect x="824.5" y="438.5" width="94.5" height="80.5" fill="none" stroke-width="1.1"/>
<rect x="824.5" y="552.5" width="94.5" height="81" fill="none" stroke-width="1.1"/>
<line x1="675.5" y1="402" x2="675.5" y2="430" stroke-width="1.1" />
<line x1="770.5" y1="402" x2="770.5" y2="430" stroke-width="1.1" />
<line x1="824.5" y1="402" x2="824.5" y2="430" stroke-width="1.1" />
<line x1="919" y1="402" x2="919" y2="430" stroke-width="1.1" />
<line x1="675.5" y1="408.5" x2="919" y2="408.5" stroke-width="1.1" />
<polygon points="675.50,408.50 690.30,405.80 689.86,408.50 690.30,411.20" fill="#1a1a1a" stroke="none"/>
<polygon points="770.50,408.50 755.70,405.80 756.14,408.50 755.70,411.20" fill="#1a1a1a" stroke="none"/>
<polygon points="770.50,408.50 785.30,405.80 784.86,408.50 785.30,411.20" fill="#1a1a1a" stroke="none"/>
<polygon points="824.50,408.50 809.70,405.80 810.14,408.50 809.70,411.20" fill="#1a1a1a" stroke="none"/>
<polygon points="824.50,408.50 839.30,405.80 838.86,408.50 839.30,411.20" fill="#1a1a1a" stroke="none"/>
<polygon points="919.00,408.50 904.20,405.80 904.64,408.50 904.20,411.20" fill="#1a1a1a" stroke="none"/>
<line x1="928.5" y1="438.5" x2="975.5" y2="438.5" stroke-width="1.1" />
<line x1="928.5" y1="519" x2="975.5" y2="519" stroke-width="1.1" />
<line x1="928.5" y1="552.5" x2="975.5" y2="552.5" stroke-width="1.1" />
<line x1="928.5" y1="633.5" x2="975.5" y2="633.5" stroke-width="1.1" />
<line x1="969.5" y1="438.5" x2="969.5" y2="633.5" stroke-width="1.1" />
<polygon points="969.50,438.50 966.80,453.30 969.50,452.86 972.20,453.30" fill="#1a1a1a" stroke="none"/>
<polygon points="969.50,519.00 966.80,504.20 969.50,504.64 972.20,504.20" fill="#1a1a1a" stroke="none"/>
<polygon points="969.50,552.50 966.80,567.30 969.50,566.86 972.20,567.30" fill="#1a1a1a" stroke="none"/>
<polygon points="969.50,633.50 966.80,618.70 969.50,619.14 972.20,618.70" fill="#1a1a1a" stroke="none"/>
<text x="127.54" y="28.84" font-size="20.56" textLength="78.52" lengthAdjust="spacingAndGlyphs">3.2 ± 0.1</text>
<text transform="translate(347.14,205.76) rotate(-90)" font-size="20.70" textLength="78.62" lengthAdjust="spacingAndGlyphs">2.5 ± 0.1</text>
<text transform="translate(390.24,380.02) rotate(-90)" font-size="21.27" textLength="76.45" lengthAdjust="spacingAndGlyphs">1.0 ± 0.1</text>
<text x="42.44" y="85.87" font-size="22.06" textLength="11.45" lengthAdjust="spacingAndGlyphs">4</text>
<text x="285.86" y="75.44" font-size="20.85" textLength="11.01" lengthAdjust="spacingAndGlyphs">3</text>
<line x1="52.5" y1="244.6" x2="52.5" y2="259.8" stroke="#111" stroke-width="2.0"/>
<line x1="52.2" y1="245.5" x2="48.6" y2="248.5" stroke="#111" stroke-width="1.8" stroke-linecap="round"/>
<text x="278.32" y="277.35" font-size="21.00" textLength="11.49" lengthAdjust="spacingAndGlyphs">2</text>
<line x1="51.2" y1="446.9" x2="51.2" y2="461.3" stroke="#111" stroke-width="2.0"/>
<line x1="50.900000000000006" y1="447.79999999999995" x2="46.8" y2="450.4" stroke="#111" stroke-width="1.8" stroke-linecap="round"/>
<text x="281.42" y="455.35" font-size="21.00" textLength="11.49" lengthAdjust="spacingAndGlyphs">2</text>
<text x="42.03" y="637.07" font-size="21.91" textLength="11.67" lengthAdjust="spacingAndGlyphs">4</text>
<text x="278.67" y="636.84" font-size="21.41" textLength="10.89" lengthAdjust="spacingAndGlyphs">3</text>
<text x="155.00" y="413.35" font-size="20.57" textLength="28.69" lengthAdjust="spacingAndGlyphs">1.2</text>
<text transform="translate(351.14,555.04) rotate(-90)" font-size="20.85" textLength="27.58" lengthAdjust="spacingAndGlyphs">1.0</text>
<text x="704.63" y="400.45" font-size="20.87" textLength="28.13" lengthAdjust="spacingAndGlyphs">1.4</text>
<text x="782.82" y="400.24" font-size="20.70" textLength="28.76" lengthAdjust="spacingAndGlyphs">0.8</text>
<text x="856.82" y="400.45" font-size="20.87" textLength="28.35" lengthAdjust="spacingAndGlyphs">1.4</text>
<text transform="translate(961.75,492.19) rotate(-90)" font-size="20.71" textLength="28.47" lengthAdjust="spacingAndGlyphs">1.2</text>
<text transform="translate(960.39,546.21) rotate(-90)" font-size="16.06" textLength="22.82" lengthAdjust="spacingAndGlyphs">0.5</text>
<text transform="translate(961.75,607.36) rotate(-90)" font-size="20.71" textLength="27.91" lengthAdjust="spacingAndGlyphs">1.2</text>
<text x="671.87" y="94.47" font-size="23.24" textLength="186.20" lengthAdjust="spacingAndGlyphs" style="stroke-width:0.1px">PAD FUNCTION:</text>
<text x="672.68" y="121.36" font-size="23.94" textLength="238.61" lengthAdjust="spacingAndGlyphs" style="stroke-width:0.1px">1:ENABLE CONTROL</text>
<text x="671.18" y="147.58" font-size="22.11" textLength="74.34" lengthAdjust="spacingAndGlyphs" style="stroke-width:0.1px">2:GND</text>
<text x="671.73" y="173.97" font-size="22.54" textLength="71.17" lengthAdjust="spacingAndGlyphs" style="stroke-width:0.1px">3:OUT</text>
<text x="671.92" y="201.10" font-size="24.06" textLength="70.26" lengthAdjust="spacingAndGlyphs" style="stroke-width:0.1px">4:VDD</text>
<text x="671.99" y="334.80" font-size="24.11" textLength="194.45" lengthAdjust="spacingAndGlyphs" style="stroke-width:0.1px">Suggested Layout</text>
<text x="893.91" y="704.58" font-size="32.03" textLength="141.88" lengthAdjust="spacingAndGlyphs" style="stroke-width:0.1px">Units:mm</text>
</g>
</svg>
</body></html>
